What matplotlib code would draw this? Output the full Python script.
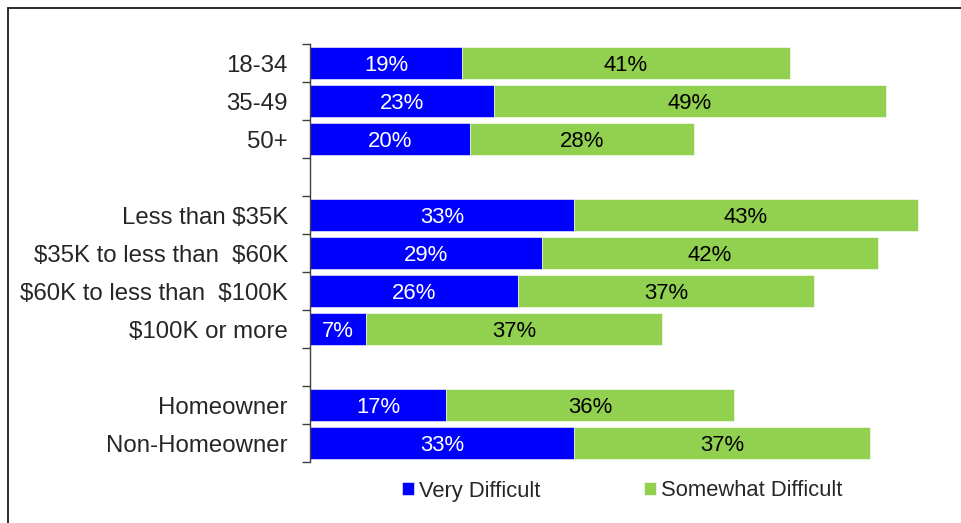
import matplotlib
matplotlib.use("Agg")
import matplotlib.pyplot as plt
from matplotlib.patches import Rectangle, Patch
import numpy as np

plt.rcParams['font.family'] = ['Liberation Sans', 'DejaVu Sans']
plt.rcParams['text.parse_math'] = False

categories = ["18-34", "35-49", "50+", "",
              "Less than $35K", "$35K to less than  $60K",
              "$60K to less than  $100K", "$100K or more", "",
              "Homeowner", "Non-Homeowner"]
very_difficult = [19, 23, 20, None, 33, 29, 26, 7, None, 17, 33]
somewhat_difficult = [41, 49, 28, None, 43, 42, 37, 37, None, 36, 37]
series_names = ["Very Difficult", "Somewhat Difficult"]

BLUE = "#0000FF"
GREEN = "#92D050"
TEXT = "#262626"

W, H = 961, 523
fig = plt.figure(figsize=(W / 100, H / 100), dpi=100)
ax = fig.add_axes([310 / W, 1 - 462 / H, 616 / W, 418 / H])

n = len(categories)
y = np.arange(n)
for i in range(n):
    v, s = very_difficult[i], somewhat_difficult[i]
    if v is None:
        continue
    ax.barh(y[i], v, height=0.84, color=BLUE, edgecolor="white", linewidth=0.4)
    ax.barh(y[i], s, left=v, height=0.84, color=GREEN, edgecolor="white", linewidth=0.4)
    ax.text(v / 2, y[i], f"{v}%", color="white", ha="center",
            va="center_baseline", fontsize=15.9)
    ax.text(v + s / 2, y[i], f"{s}%", color="black", ha="center",
            va="center_baseline", fontsize=15.9)

ax.set_ylim(n - 0.5, -0.5)
ax.set_xlim(0, 77)
ax.set_yticks(y)
ax.set_yticklabels(categories, fontsize=17.3, color=TEXT)
ax.set_yticks(np.arange(n + 1) - 0.5, minor=True)
ax.tick_params(axis="y", which="major", length=0, pad=16)
ax.tick_params(axis="y", which="minor", length=6, width=1, color="#404040")
ax.set_xticks([])
for side in ["top", "right", "bottom"]:
    ax.spines[side].set_visible(False)
ax.spines["left"].set_color("#404040")
ax.spines["left"].set_linewidth(1)

handles = [Patch(facecolor=BLUE, edgecolor="white", linewidth=0.4),
           Patch(facecolor=GREEN, edgecolor="white", linewidth=0.4)]
fig.legend(handles, series_names, loc="center", bbox_to_anchor=(622 / W, 1 - 491 / H),
           ncol=2, frameon=False, fontsize=15.8, handlelength=0.55, handleheight=0.55,
           handletextpad=0.25, columnspacing=4.7, labelcolor=TEXT)

# outer frame
fig.patches.append(Rectangle((8 / W, -0.05), 1.1, 1 - 8 / H + 0.05,
                             transform=fig.transFigure, fill=False,
                             edgecolor="#1a1a1a", linewidth=1.3))

fig.savefig("out.png", dpi=100)
